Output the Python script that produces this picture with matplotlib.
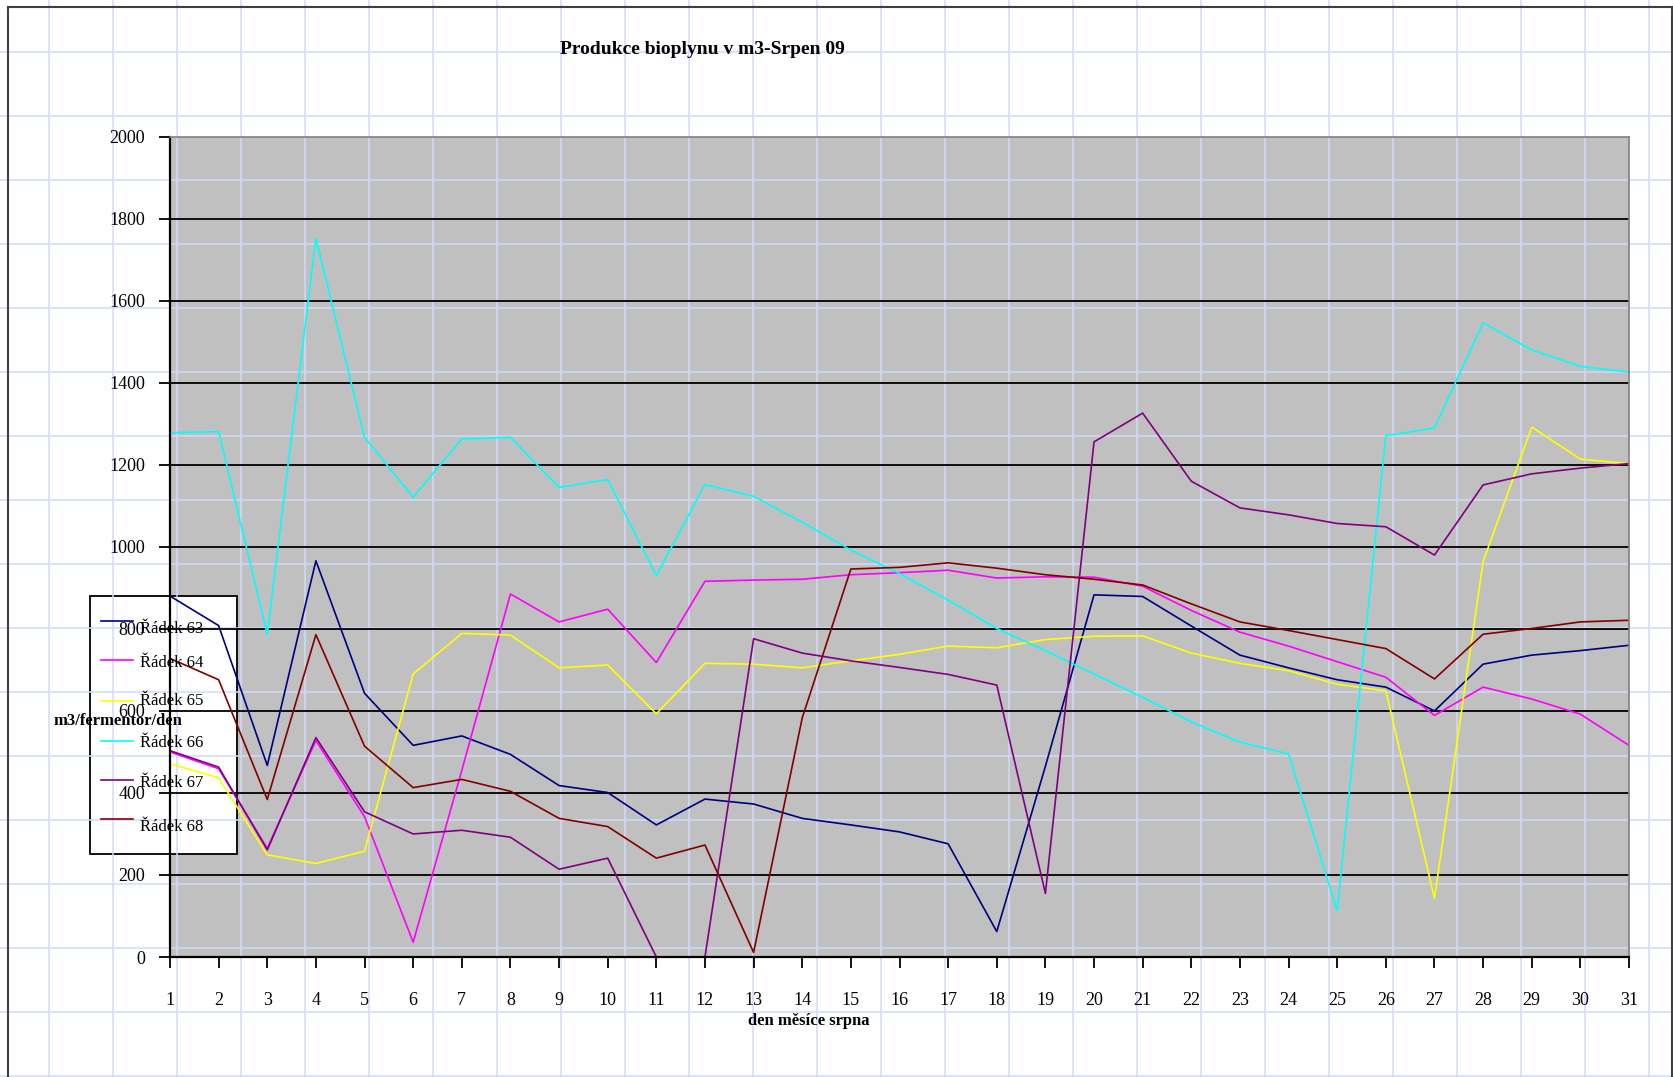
import matplotlib
matplotlib.use('Agg')
import matplotlib.pyplot as plt
from matplotlib.patches import Rectangle

# daily biogas production, August 09 (m3/fermentor/day)
days = list(range(1, 32))
r63 = [880, 808, 467, 966, 643, 516, 539, 494, 418, 401, 322, 385, 373, 338, 322, 305,
       276, 62, 465, 883, 879, 807, 736, 705, 676, 658, 600, 714, 736, 747, 760]
r64 = [500, 459, 265, 528, 342, 36, 455, 885, 817, 848, 718, 916, 919, 921, 932, 937,
       943, 924, 927, 926, 904, 845, 792, 758, 720, 682, 589, 658, 629, 592, 516]
r65 = [471, 437, 249, 228, 258, 690, 789, 785, 705, 712, 593, 716, 714, 705, 722, 738,
       758, 754, 774, 782, 783, 741, 716, 698, 665, 649, 143, 964, 1292, 1214, 1203]
r66 = [1278, 1281, 787, 1752, 1267, 1121, 1263, 1267, 1145, 1164, 930, 1152, 1123, 1060,
       992, 935, 870, 801, 747, 690, 633, 573, 524, 495, 113, 1271, 1290, 1546, 1480,
       1440, 1426]
r67 = [503, 463, 261, 535, 354, 300, 309, 292, 214, 241, 0, 0, 776, 741, 722, 706, 689,
       663, 155, 1256, 1326, 1160, 1095, 1078, 1057, 1049, 980, 1151, 1178, 1192, 1203]
r68 = [728, 676, 384, 786, 514, 413, 433, 404, 338, 318, 241, 273, 11, 583, 946, 950,
       961, 948, 932, 921, 907, 861, 817, 796, 774, 752, 678, 787, 801, 817, 821]

series = [r63, r64, r65, r66, r67, r68]
names = ['Řádek 63', 'Řádek 64', 'Řádek 65', 'Řádek 66', 'Řádek 67', 'Řádek 68']
colors = ['#000080', '#ff00ff', '#ffff00', '#00ffff', '#800080', '#800000']

W, H = 1673, 1077
plt.rcParams['font.family'] = ['Liberation Serif', 'DejaVu Serif']

def fx(x):
    return x / W

def fy(y):
    return 1 - y / H

fig = plt.figure(figsize=(W / 100, H / 100), dpi=100)
ax = fig.add_axes([fx(170), fy(957), (1629 - 170) / W, (957 - 136.7) / H])
ax.set_facecolor('#c0c0c0')
ax.set_xlim(1, 31)
ax.set_ylim(0, 2000)

# spreadsheet cell grid behind everything
ft = fig.transFigure
for x in range(49, W, 64):
    ax.plot([fx(x), fx(x)], [0, 1], transform=ft, color='#cfdbf8', lw=1.1,
            zorder=0.8, clip_on=False)
y = 51.7
while y < H:
    ax.plot([0, 1], [fy(y), fy(y)], transform=ft, color='#cfdbf8', lw=1.1,
            zorder=0.8, clip_on=False)
    y += 64

# sheet border
bc = '#404040'
ax.plot([fx(7.5), fx(1672)], [fy(7.3), fy(7.3)], transform=ft, color=bc, lw=1.5, clip_on=False)
ax.plot([fx(7.5), fx(7.5)], [fy(7.3), 0], transform=ft, color=bc, lw=1.5, clip_on=False)
ax.plot([fx(1672), fx(1672)], [fy(7.3), 0], transform=ft, color=bc, lw=1.5, clip_on=False)

for v in range(200, 2000, 200):
    ax.axhline(v, color='black', lw=1.3, zorder=1)

for s, c in zip(series, colors):
    ax.plot(days, s, color=c, lw=1.2, zorder=2)

ax.set_xticks(days)
ax.set_yticks(range(0, 2001, 200))
ax.tick_params(axis='both', direction='out', length=8, width=1.3, labelsize=13)
ax.tick_params(axis='x', pad=17)
ax.tick_params(axis='y', pad=10)
for side in ['left', 'bottom']:
    ax.spines[side].set_linewidth(1.6)
for side in ['top', 'right']:
    ax.spines[side].set_color('#808080')
    ax.spines[side].set_linewidth(1.2)

# legend box
ax.add_patch(Rectangle((fx(90), fy(854)), (236.7 - 90) / W, (854 - 595.7) / H,
                       transform=ft, facecolor='white', edgecolor='black', lw=1.3,
                       zorder=0.5, clip_on=False))
line_y = [620.7, 660, 700.7, 740.7, 780, 819.3]
text_y = [629, 663, 701, 743, 783, 827]
for name, c, ly, ty in zip(names, colors, line_y, text_y):
    ax.plot([fx(101), fx(133)], [fy(ly), fy(ly)], transform=ft, color=c, lw=1.2,
            zorder=3, clip_on=False)
    fig.text(fx(140), fy(ty), name, fontsize=12, ha='left', va='center')

fig.text(fx(702), fy(50), 'Produkce bioplynu v m3-Srpen 09', fontsize=14,
         fontweight='bold', ha='center', va='center')
fig.text(fx(809), fy(1021), 'den měsíce srpna', fontsize=12, fontweight='bold',
         ha='center', va='center')
fig.text(fx(54), fy(721), 'm3/fermentor/den', fontsize=12, fontweight='bold',
         ha='left', va='center')

fig.savefig('out.png', dpi=100)
